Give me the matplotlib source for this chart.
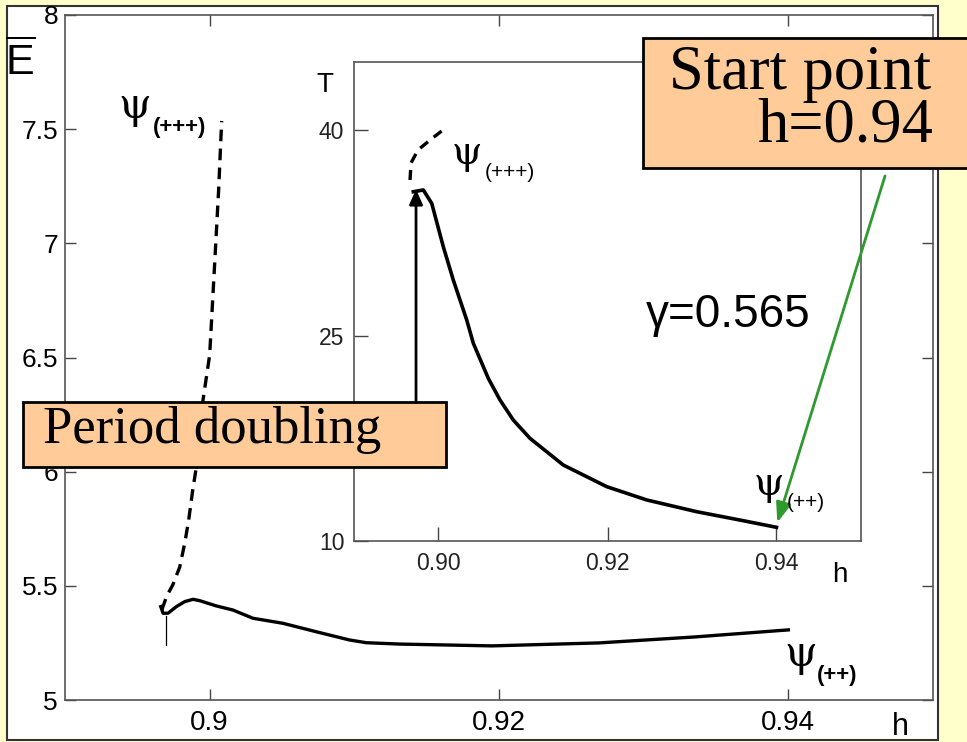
import matplotlib
matplotlib.use("Agg")
import matplotlib.pyplot as plt
from matplotlib.patches import Rectangle

plt.rcParams['font.family'] = ['Liberation Sans', 'DejaVu Sans']
plt.rcParams['mathtext.fontset'] = 'custom'
plt.rcParams['mathtext.rm'] = 'Liberation Sans'

# mean energy of the psi(++) branch (solid) and the psi(+++) branch (dashed)
h_pp = [0.89662, 0.89678, 0.89712, 0.8977, 0.89828, 0.89885, 0.89931, 0.90046,
        0.90161, 0.90299, 0.90506, 0.90736, 0.90966, 0.91081, 0.9131, 0.91952,
        0.9269, 0.9335, 0.94]
E_pp = [5.409, 5.380, 5.380, 5.409, 5.431, 5.441, 5.435, 5.412,
        5.394, 5.358, 5.336, 5.299, 5.263, 5.251, 5.245, 5.237,
        5.250, 5.276, 5.307]

h_ppp = [0.89669, 0.89703, 0.89745, 0.89793, 0.89828, 0.89855, 0.89883, 0.8991,
         0.89952, 0.9, 0.90034, 0.90062, 0.90083]
E_ppp = [5.394, 5.455, 5.504, 5.582, 5.688, 5.788, 5.920, 6.029,
         6.305, 6.511, 6.905, 7.234, 7.536]

# bifurcation marker on the main plot
h_pd = 0.89698
E_pd = [5.24, 5.37]

# period T of both branches (inset)
hT_pp = [0.89702, 0.8982, 0.8992, 0.90057, 0.90175, 0.90334, 0.90412, 0.90589,
         0.90728, 0.90885, 0.91083, 0.91477, 0.91991, 0.92464, 0.93056, 0.93568,
         0.94]
T_pp = [35.52, 35.65, 34.67, 31.50, 29.07, 26.15, 24.45, 21.89,
        20.30, 18.84, 17.50, 15.55, 13.97, 13.00, 12.14, 11.53,
        11.0]

hT_ppp = [0.89663, 0.89675, 0.89757, 0.8990, 0.90053]
T_ppp = [36.38, 37.62, 38.57, 39.30, 40.03]

# period doubling arrow in the inset
h_arrow = 0.89734
T_arrow = [19.6, 35.7]

main_xticks = [0.9, 0.92, 0.94]
main_xticklabels = ['0.9', '0.92', '0.94']
main_yticks = [5, 5.5, 6, 6.5, 7, 7.5, 8]
main_yticklabels = ['5', '5.5', '6', '6.5', '7', '7.5', '8']
inset_xticks = [0.90, 0.92, 0.94]
inset_xticklabels = ['0.90', '0.92', '0.94']
inset_yticks = [10, 25, 40]

W, H = 967, 742


def fx(x):
    return x / W


def fy(y):
    return 1 - y / H


def box(x0, y0, x1, y1):
    return [fx(x0), fy(y1), fx(x1) - fx(x0), fy(y0) - fy(y1)]


fig = plt.figure(figsize=(W / 100, H / 100), dpi=100, facecolor='#ffffcc')

# white sheet with a dark border
fig.add_artist(Rectangle((fx(7), fy(740)), fx(938) - fx(7), fy(6) - fy(740),
                         transform=fig.transFigure, facecolor='white',
                         edgecolor='#333333', linewidth=1.5, zorder=-5))

ax = fig.add_axes(box(65, 15, 933, 700))
ax.plot(h_pp, E_pp, color='black', lw=2.4, solid_joinstyle='round')
ax.plot(h_ppp, E_ppp, color='black', lw=2.4, dashes=(3.5, 2.2))
ax.plot([h_pd, h_pd], E_pd, color='black', lw=0.9)
ax.set_xlim(0.89, 0.95)
ax.set_ylim(5, 8)
ax.set_xticks(main_xticks)
ax.set_xticklabels(main_xticklabels)
ax.set_yticks(main_yticks)
ax.set_yticklabels(main_yticklabels)
ax.tick_params(direction='in', length=8, width=1, top=True, right=True,
               labelsize=19, color='#444444')
ax.tick_params(axis='x', pad=7, labelsize=20)
ax.tick_params(axis='y', pad=5)
for s in ax.spines.values():
    s.set_color('#555555')
    s.set_linewidth(1.2)

ins = fig.add_axes(box(354, 62, 861, 541))
ins.plot(hT_pp, T_pp, color='black', lw=2.6, solid_joinstyle='round')
ins.plot(hT_ppp, T_ppp, color='black', lw=2.4, dashes=(3.0, 2.2))
ins.annotate('', xy=(h_arrow, T_arrow[1]), xytext=(h_arrow, T_arrow[0]),
             arrowprops=dict(arrowstyle='-|>,head_length=0.9,head_width=0.4',
                             color='black', lw=2, shrinkA=0, shrinkB=0))
ins.set_xlim(0.89, 0.95)
ins.set_ylim(10, 45)
ins.set_xticks(inset_xticks)
ins.set_xticklabels(inset_xticklabels)
ins.set_yticks(inset_yticks)
ins.tick_params(direction='in', length=10, width=1, labelsize=16.5,
                labelcolor='#222222', color='#444444')
ins.tick_params(axis='x', pad=8)
ins.tick_params(axis='y', pad=7)
for s in ins.spines.values():
    s.set_color('#555555')
    s.set_linewidth(1.2)
ins.text(0.9343, 26.5, 'γ=0.565', fontsize=33, ha='center', va='center')

# axis titles
fig.text(fx(20), fy(62), r'$\overline{\mathrm{E}}$', fontsize=31,
         ha='center', va='center')
fig.text(fx(900), fy(727), 'h', fontsize=22, ha='center', va='center')
fig.text(fx(325), fy(85), 'T', fontsize=20, ha='center', va='center')
fig.text(fx(840), fy(575), 'h', fontsize=20, ha='center', va='center')


def psi_label(x, y, sub, size, subsize, weight, dx, dy):
    fig.text(fx(x), fy(y), 'ψ', fontsize=size, family='DejaVu Serif',
             ha='center', va='center')
    fig.text(fx(x + dx), fy(y + dy), sub, fontsize=subsize, weight=weight,
             ha='center', va='center')


psi_label(135, 106, '(+++)', 30, 16, 'bold', 45, 22)
psi_label(801, 654, '(++)', 30, 16, 'bold', 36, 22)
psi_label(467, 154, '(+++)', 28, 15, 'normal', 43, 19)
psi_label(769, 484, '(++)', 28, 15, 'normal', 37, 19)

# callout boxes
fig.add_artist(Rectangle((fx(23), fy(467)), fx(446) - fx(23), fy(402) - fy(467),
                         transform=fig.transFigure, facecolor='#ffcc99',
                         edgecolor='black', linewidth=2, zorder=4))
fig.text(fx(43), fy(443), 'Period doubling', fontsize=38,
         family='Liberation Serif', ha='left', va='baseline', zorder=5)

fig.add_artist(Rectangle((fx(643), fy(168)), fx(1000) - fx(643), fy(38) - fy(168),
                         transform=fig.transFigure, facecolor='#ffcc99',
                         edgecolor='black', linewidth=2, zorder=4))
fig.text(fx(931), fy(89), 'Start point', fontsize=45,
         family='Liberation Serif', ha='right', va='baseline', zorder=5)
fig.text(fx(933), fy(142), 'h=0.94', fontsize=45,
         family='Liberation Serif', ha='right', va='baseline', zorder=5)

ins.annotate('', xy=(hT_pp[-1] + 0.0001, T_pp[-1] + 0.35),
             xytext=(fx(885), fy(176)), textcoords='figure fraction',
             arrowprops=dict(arrowstyle='-|>,head_length=1.2,head_width=0.45',
                             color='#2e9a2e', lw=2, shrinkA=0, shrinkB=0),
             annotation_clip=False, zorder=6)

fig.savefig('out.png', dpi=100, facecolor=fig.get_facecolor())
